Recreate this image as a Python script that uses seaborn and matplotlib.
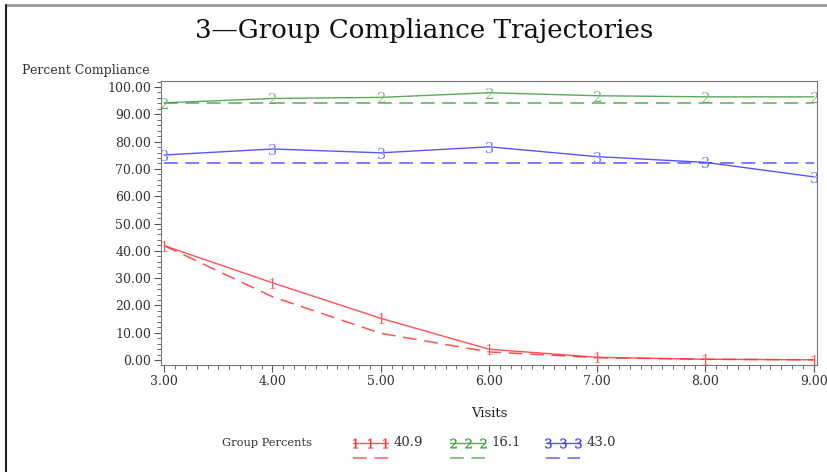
import pandas as pd
import seaborn as sns
import matplotlib.pyplot as plt
import numpy as np
from matplotlib.lines import Line2D
from matplotlib.ticker import MultipleLocator

# Data
visits = [3, 4, 5, 6, 7, 8, 9]
groups = ['1', '2', '3']
group_pct = ['40.9', '16.1', '43.0']
observed = {
    '1': [41.9, 28.3, 15.3, 4.0, 1.0, 0.3, 0.1],
    '2': [94.2, 95.8, 96.2, 97.9, 96.8, 96.4, 96.4],
    '3': [75.1, 77.3, 75.9, 78.1, 74.5, 72.4, 67.1],
}
predicted = {
    '1': [41.9, 23.2, 9.8, 3.0, 0.9, 0.3, 0.1],
    '2': [94.3, 94.3, 94.3, 94.3, 94.3, 94.3, 94.3],
    '3': [72.0, 72.0, 72.0, 72.0, 72.0, 72.0, 72.0],
}
colors = {'1': '#ff3333', '2': '#3c9c3c', '3': '#3a3aff'}
markers = {'1': '$1$', '2': '$2$', '3': '$3$'}

df_obs = pd.DataFrame([(v, g, y) for g in groups for v, y in zip(visits, observed[g])],
                      columns=['visit', 'group', 'pct'])
df_pred = pd.DataFrame([(v, g, y) for g in groups for v, y in zip(visits, predicted[g])],
                       columns=['visit', 'group', 'pct'])

sns.set_style('ticks')
plt.rcParams['font.family'] = ['DejaVu Serif', 'Liberation Serif']
plt.rcParams['mathtext.fontset'] = 'dejavuserif'

fig = plt.figure(figsize=(8.28, 4.72), dpi=100)
ax = fig.add_axes([0.1944, 0.2267, 0.7923, 0.6017])

# dashed fitted lines
sns.lineplot(data=df_pred, x='visit', y='pct', hue='group', palette=colors,
             ax=ax, legend=False, linewidth=1.1, alpha=0.85)
for ln in ax.get_lines():
    ln.set_dashes((9, 5))

# solid observed lines with numbered symbols
sns.lineplot(data=df_obs, x='visit', y='pct', hue='group', style='group',
             palette=colors, markers=markers, dashes=False, markersize=8,
             markeredgewidth=0.2, ax=ax, legend=False, linewidth=1.0, alpha=0.85)

ax.set_xlim(2.97, 9.03)
ax.set_ylim(-1.8, 102.2)
ax.set_xticks(visits)
ax.set_xticklabels([f'{v:.2f}' for v in visits])
ax.set_yticks(np.arange(0, 101, 10))
ax.set_yticklabels([f'{v:.2f}' for v in np.arange(0, 101, 10)])
ax.xaxis.set_minor_locator(MultipleLocator(0.1))
ax.yaxis.set_minor_locator(MultipleLocator(2))
ax.tick_params(which='both', direction='out', colors='#555555', labelcolor='#333333',
               labelsize=9)
ax.tick_params(which='major', length=5, pad=2)
ax.tick_params(which='minor', length=3)
for sp in ax.spines.values():
    sp.set_color('#777777')
    sp.set_visible(True)
ax.set_xlabel('Visits', fontsize=9.5, color='#222222', labelpad=14)
ax.set_ylabel('')

fig.text(0.026, 0.851, 'Percent Compliance', fontsize=9, color='#333333', va='center')
fig.text(0.512, 0.935, '3\u2014Group Compliance Trajectories', fontsize=18.8,
         ha='center', va='center', color='#111111')

# legend
fig.text(0.268, 0.062, 'Group Percents', fontsize=8.2, color='#333333', va='center')
lx = [0.426, 0.544, 0.659]
for x0, g, p in zip(lx, groups, group_pct):
    xs = [x0 + 0.003, x0 + 0.021, x0 + 0.039]
    fig.add_artist(Line2D([x0, x0 + 0.042], [0.062, 0.062], color=colors[g], lw=1,
                          alpha=0.85))
    fig.add_artist(Line2D(xs, [0.062] * 3, color=colors[g], lw=0, marker=markers[g],
                          markersize=7, markeredgewidth=0.2))
    fig.add_artist(Line2D([x0, x0 + 0.042], [0.030, 0.030], color=colors[g], lw=1.1,
                          dashes=(9, 5), alpha=0.8))
    fig.text(x0 + 0.049, 0.062, p, fontsize=9.5, color='#333333', va='center')

# outer frame lines
fig.add_artist(Line2D([0.007, 1], [0.990, 0.990], color='#999999', lw=2))
fig.add_artist(Line2D([0.007, 0.007], [0, 0.990], color='#222222', lw=1.5))

fig.savefig('out.png', dpi=100)
